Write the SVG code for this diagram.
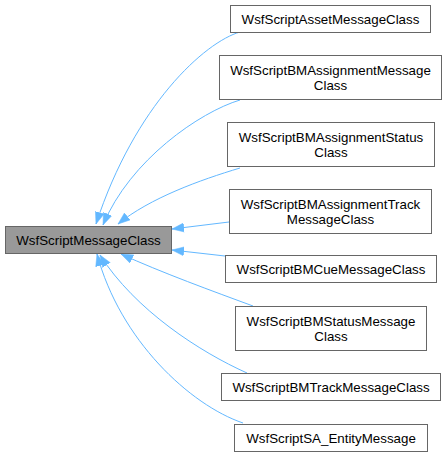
<svg xmlns="http://www.w3.org/2000/svg" width="446" height="456" viewBox="0 0 446 456">
<style>
.node rect{fill:#ffffff;stroke:#666666;stroke-width:1}
#main rect{fill:#999999;stroke:#666666}
text{font-family:"Liberation Sans",Arial,sans-serif;font-size:13.33px;fill:#000000;text-anchor:middle}
.edge{fill:none;stroke:#63b8ff;stroke-width:1}
</style>
<defs>
<marker id="ah" markerUnits="userSpaceOnUse" markerWidth="13" markerHeight="10" viewBox="0 0 13 10" refX="12" refY="5" orient="auto">
<path d="M0,0.5 L12,5 L0,9.5 z" fill="#63b8ff" stroke="#63b8ff" stroke-width="0.5"/>
</marker>
</defs>
<rect width="446" height="456" fill="#ffffff"/>
<g id="connectors">
<path class="edge" marker-end="url(#ah)" d="M240,32 C205,42 135,105 96,224"/>
<path class="edge" marker-end="url(#ah)" d="M240,100 C200,112 130,160 103,225"/>
<path class="edge" marker-end="url(#ah)" d="M240,168 C200,180 150,198 118,224"/>
<path class="edge" marker-end="url(#ah)" d="M229,222 L172,229"/>
<path class="edge" marker-end="url(#ah)" d="M225,256 L172,250"/>
<path class="edge" marker-end="url(#ah)" d="M253,306 C215,292 160,272 121,254"/>
<path class="edge" marker-end="url(#ah)" d="M247,373 C200,352 135,310 100,255"/>
<path class="edge" marker-end="url(#ah)" d="M243,423 C190,405 120,340 97,254"/>
</g>
<g id="main" class="node">
<rect x="5.5" y="226.5" width="166" height="27"/>
<text x="88.5" y="245">WsfScriptMessageClass</text>
</g>
<g id="n1" class="node">
<rect x="230.5" y="5.5" width="200" height="27"/>
<text x="330.5" y="23.5">WsfScriptAssetMessageClass</text>
</g>
<g id="n2" class="node">
<rect x="219.5" y="55.5" width="222" height="44"/>
<text x="330.5" y="75">WsfScriptBMAssignmentMessage</text>
<text x="330.5" y="90">Class</text>
</g>
<g id="n3" class="node">
<rect x="227.5" y="122.5" width="207" height="44"/>
<text x="331" y="142">WsfScriptBMAssignmentStatus</text>
<text x="331" y="157">Class</text>
</g>
<g id="n4" class="node">
<rect x="229.5" y="189.5" width="202" height="44"/>
<text x="330.5" y="209">WsfScriptBMAssignmentTrack</text>
<text x="330.5" y="224">MessageClass</text>
</g>
<g id="n5" class="node">
<rect x="225.5" y="255.5" width="211" height="27"/>
<text x="331" y="273.5">WsfScriptBMCueMessageClass</text>
</g>
<g id="n6" class="node">
<rect x="235.5" y="306.5" width="191" height="44"/>
<text x="331" y="326">WsfScriptBMStatusMessage</text>
<text x="331" y="341">Class</text>
</g>
<g id="n7" class="node">
<rect x="221.5" y="373.5" width="219" height="27"/>
<text x="331" y="391.5">WsfScriptBMTrackMessageClass</text>
</g>
<g id="n8" class="node">
<rect x="234.5" y="424.5" width="193" height="27"/>
<text x="331" y="442.5">WsfScriptSA_EntityMessage</text>
</g>
</svg>
